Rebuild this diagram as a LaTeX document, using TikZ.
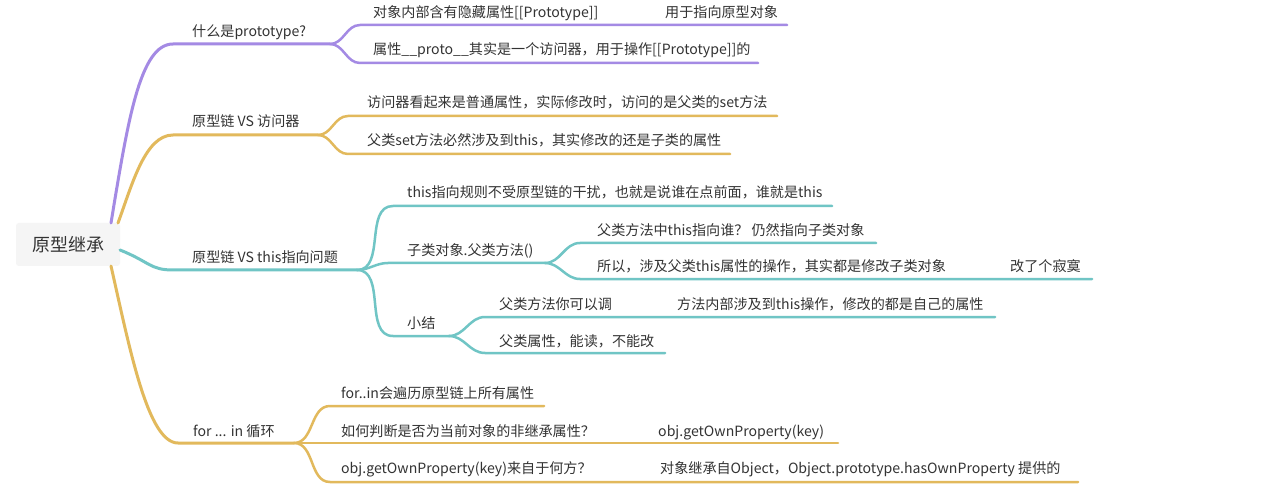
\documentclass[tikz,border=0pt]{standalone}
\usepackage{fontspec}
\setmainfont{Noto Sans CJK SC}
\definecolor{cp}{RGB}{164,138,228}
\definecolor{cg}{RGB}{226,185,92}
\definecolor{ct}{RGB}{112,197,197}
\definecolor{tx}{RGB}{51,51,51}
\definecolor{rootbg}{RGB}{245,245,245}
\begin{document}
\begin{tikzpicture}[x=1pt,y=-1pt,
  lbl/.style={anchor=base west,inner sep=0pt,text=tx,font=\fontsize{14.1}{16}\selectfont},
  mainl/.style={line width=3pt,line cap=round},
  subl/.style={line width=2.5pt,line cap=round},
  sc/.style={out=0,in=180}]
\useasboundingbox[fill=white] (0,0) rectangle (1264,497);

% root
\node[fill=rootbg,rounded corners=3pt,minimum width=104pt,minimum height=43pt,inner sep=0pt,text=tx,font=\fontsize{18}{20}\selectfont] (root) at (68,244.5) {原型继承};

% ---------- coordinates ----------
% purple branch
\coordinate (p0) at (111,223); \coordinate (p1) at (173,44); \coordinate (p2) at (330,44);
\coordinate (p1a) at (360,25); \coordinate (p1b) at (608,25); \coordinate (p1c) at (787,25);
\coordinate (p2a) at (360,63); \coordinate (p2b) at (758,63);
% gold branch 1
\coordinate (g0) at (118,223); \coordinate (g1) at (173,135); \coordinate (g2) at (318,135);
\coordinate (g1a) at (348,116); \coordinate (g1b) at (777,116);
\coordinate (g2a) at (348,154); \coordinate (g2b) at (730,154);
% teal branch
\coordinate (c0) at (120,250); \coordinate (c1) at (173,270); \coordinate (c2) at (357,270);
\coordinate (c1a) at (393,206); \coordinate (c1b) at (832,206);
\coordinate (c2a) at (388,263); \coordinate (c2b) at (545,263);
\coordinate (c21a) at (580,243); \coordinate (c21b) at (876,243);
\coordinate (c22a) at (580,279); \coordinate (c22b) at (956,279); \coordinate (c22c) at (1092,279);
\coordinate (c3a) at (393,336); \coordinate (c3b) at (449,336);
\coordinate (c31a) at (485,317); \coordinate (c31b) at (620,317); \coordinate (c31c) at (995,317);
\coordinate (c32a) at (485,353); \coordinate (c32b) at (665,353);
% gold branch 2
\coordinate (h0) at (111,266); \coordinate (h1) at (178,443); \coordinate (h2) at (294,443);
\coordinate (h1a) at (330,406); \coordinate (h1b) at (544,406);
\coordinate (h2b) at (602,443); \coordinate (h2c) at (838,443);
\coordinate (h3a) at (330,482); \coordinate (h3b) at (604,482); \coordinate (h3c) at (1078,482);

% ---------- connectors ----------
\draw[cp,mainl] (p0) .. controls (128,120) and (140,44) .. (p1) -- (p2);
\draw[cp,subl] (p2) to[sc] (p1a) -- (p1b) -- (p1c);
\draw[cp,subl] (p2) to[sc] (p2a) -- (p2b);

\draw[cg,mainl] (g0) .. controls (132,185) and (145,135) .. (g1) -- (g2);
\draw[cg,subl] (g2) to[sc] (g1a) -- (g1b);
\draw[cg,subl] (g2) to[sc] (g2a) -- (g2b);

\draw[ct,mainl] (c0) .. controls (150,262) and (150,270) .. (c1) -- (c2);
\draw[ct,subl] (c2) to[sc] (c1a) -- (c1b);
\draw[ct,subl] (c2) to[sc] (c2a) -- (c2b);
\draw[ct,subl] (c2b) to[sc] (c21a) -- (c21b);
\draw[ct,subl] (c2b) to[sc] (c22a) -- (c22b) -- (c22c);
\draw[ct,subl] (c2) to[sc] (c3a) -- (c3b);
\draw[ct,subl] (c3b) to[sc] (c31a) -- (c31b) -- (c31c);
\draw[ct,subl] (c3b) to[sc] (c32a) -- (c32b);

\draw[cg,mainl] (h0) .. controls (130,350) and (148,443) .. (h1) -- (h2);
\draw[cg,subl] (h2) to[sc] (h1a) -- (h1b);
\draw[cg,subl] (h2) -- (h2b) -- (h2c);
\draw[cg,subl] (h2) to[sc] (h3a) -- (h3b) -- (h3c);

% ---------- labels ----------
\node[lbl] (t1) at (192,37) {什么是prototype?};
\node[lbl] (t11) at (373,18) {对象内部含有隐藏属性[[Prototype]]};
\node[lbl] (t12) at (665,18) {用于指向原型对象};
\node[lbl] (t13) at (373,55) {属性\_\_proto\_\_其实是一个访问器，用于操作[[Prototype]]的};

\node[lbl] (t2) at (192,127) {原型链 VS 访问器};
\node[lbl] (t21) at (367,108) {访问器看起来是普通属性，实际修改时，访问的是父类的set方法};
\node[lbl] (t22) at (367,146) {父类set方法必然涉及到this，其实修改的还是子类的属性};

\node[lbl] (t3) at (192,262) {原型链 VS this指向问题};
\node[lbl] (t31) at (407,198) {this指向规则不受原型链的干扰，也就是说谁在点前面，谁就是this};
\node[lbl] (t32) at (407,255) {子类对象.父类方法()};
\node[lbl] (t321) at (597,236) {父类方法中this指向谁？ 仍然指向子类对象};
\node[lbl] (t322) at (597,272) {所以，涉及父类this属性的操作，其实都是修改子类对象};
\node[lbl] (t323) at (1010,272) {改了个寂寞};
\node[lbl] (t33) at (407,328) {小结};
\node[lbl] (t331) at (499,309) {父类方法你可以调};
\node[lbl] (t332) at (677,309) {方法内部涉及到this操作，修改的都是自己的属性};
\node[lbl] (t333) at (499,346) {父类属性，能读，不能改};

\node[lbl] (t4) at (193,436) {for ... in 循环};
\node[lbl] (t41) at (341,398) {for..in会遍历原型链上所有属性};
\node[lbl] (t42) at (341,436) {如何判断是否为当前对象的非继承属性？};
\node[lbl] (t421) at (658,436) {obj.getOwnProperty(key)};
\node[lbl] (t43) at (341,473) {obj.getOwnProperty(key)来自于何方？};
\node[lbl] (t431) at (660,473) {对象继承自Object，Object.prototype.hasOwnProperty 提供的};
\end{tikzpicture}
\end{document}
